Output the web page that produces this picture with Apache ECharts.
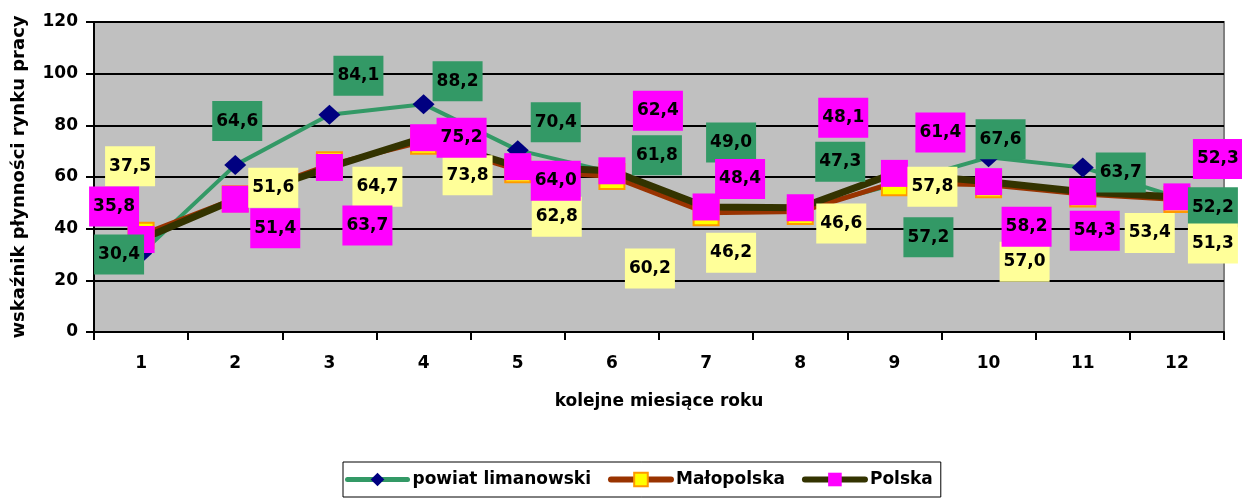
<!DOCTYPE html>
<html>
<head>
<meta charset="utf-8">
<script src="https://cdn.jsdelivr.net/npm/echarts@6/dist/echarts.min.js"></script>
<style>
html,body{margin:0;padding:0;background:#fff;}
#chart{width:1242px;height:504px;}
</style>
</head>
<body>
<div id="chart"></div>
<script>
// ---- data ----
const months = ['1','2','3','4','5','6','7','8','9','10','11','12'];
const powiat = [30.4, 64.6, 84.1, 88.2, 70.4, 61.8, 49.0, 47.3, 57.2, 67.6, 63.7, 52.2];
const malopolska = [37.5, 51.6, 64.7, 73.8, 62.8, 60.2, 46.2, 46.6, 57.8, 57.0, 53.4, 51.3];
const polska = [35.8, 51.4, 63.7, 75.2, 64.0, 62.4, 48.4, 48.1, 61.4, 58.2, 54.3, 52.3];
const yMin = 0, yMax = 120, yStep = 20;
const seriesNames = ['powiat limanowski', 'Małopolska', 'Polska'];

// ---- label placement (pixel offsets of the value boxes from their points) ----
const powiatOff = [[-22,1],[2,-44],[29,-39],[34,-23],[38,-28],[45,-17],[25,-63],[40,-48],[34,53],[12,-18],[38,5],[36,10]];
const maloOff = [[-11,-69],[38,-11],[48,22],[44,34],[39,47],[38,92],[25,40],[41,12],[38,4],[36,77],[67,39],[36,44]];
const polskaOff = [[-27,-33],[40,29],[38,58],[38,0],[38,14],[46,-60],[34,-28],[43,-90],[46,-41],[38,45],[12,39],[41,-38]];

const FONT = 'DejaVu Sans';
function fmt(v){ return v.toFixed(1).replace('.', ','); }
function build(vals, offs){
  return vals.map((v,i)=>({value:v, label:{offset:offs[i]}}));
}
function labelStyle(bg){
  return {
    show:true, position:'inside', formatter:p=>fmt(p.value),
    backgroundColor:bg, color:'#000', fontFamily:FONT, fontWeight:'bold', fontSize:17,
    width:50, height:40, lineHeight:40, align:'center', verticalAlign:'middle', padding:0
  };
}

const chart = echarts.init(document.getElementById('chart'), null, {renderer:'canvas'});
chart.setOption({
  animation:false,
  backgroundColor:'#fff',
  textStyle:{fontFamily:FONT},
  grid:{left:94, right:18, top:22, bottom:172, show:true, backgroundColor:'#C0C0C0', borderColor:'#808080', borderWidth:2},
  legend:{
    left:343, top:462, orient:'horizontal',
    borderColor:'#000', borderWidth:1, padding:[9,8,9,2],
    itemWidth:60, itemHeight:17, itemGap:17,
    textStyle:{fontFamily:FONT, fontWeight:'bold', fontSize:17, color:'#000'},
    lineStyle:{width:5, cap:'round'},
    selectedMode:false,
    data:[
      {name:seriesNames[0], lineStyle:{width:5, cap:'round'}},
      {name:seriesNames[1], lineStyle:{width:6, cap:'round'}},
      {name:seriesNames[2], lineStyle:{width:6, cap:'round'}}
    ]
  },
  xAxis:{
    type:'category', data:months, boundaryGap:true,
    name:'kolejne miesiące roku', nameLocation:'middle', nameGap:61,
    nameTextStyle:{fontFamily:FONT, fontWeight:'bold', fontSize:17, color:'#000'},
    axisLine:{lineStyle:{color:'#000', width:2}},
    axisTick:{show:true, interval:0, length:8, lineStyle:{color:'#000', width:2}},
    axisLabel:{margin:23, fontFamily:FONT, fontWeight:'bold', fontSize:17, color:'#000', interval:0},
    splitLine:{show:false}
  },
  yAxis:{
    type:'value', min:yMin, max:yMax, interval:yStep,
    name:'wskaźnik płynności rynku pracy', nameLocation:'middle', nameGap:66, nameRotate:90,
    nameTextStyle:{fontFamily:FONT, fontWeight:'bold', fontSize:18, color:'#000'},
    axisLine:{show:true, lineStyle:{color:'#000', width:2}},
    axisTick:{show:true, length:8, lineStyle:{color:'#000', width:2}},
    axisLabel:{margin:16, fontFamily:FONT, fontWeight:'bold', fontSize:17, color:'#000'},
    splitLine:{show:true, lineStyle:{color:'#000', width:2}}
  },
  series:[
    {
      name:seriesNames[0], type:'line', data:build(powiat, powiatOff),
      symbol:'diamond', symbolSize:[22,20], showAllSymbol:true,
      lineStyle:{color:'#339966', width:4},
      itemStyle:{color:'#000080', borderWidth:0},
      label:labelStyle('#339966'),
      emphasis:{disabled:true}, z:3
    },
    {
      name:seriesNames[1], type:'line', data:build(malopolska, maloOff),
      symbol:'rect', symbolSize:25, showAllSymbol:true,
      lineStyle:{color:'#993300', width:5},
      itemStyle:{color:'#FFFF00', borderColor:'#FF9900', borderWidth:2},
      label:labelStyle('#FFFF99'),
      emphasis:{disabled:true}, z:3
    },
    {
      name:seriesNames[2], type:'line', data:build(polska, polskaOff),
      symbol:'rect', symbolSize:27, showAllSymbol:true,
      lineStyle:{color:'#333300', width:7},
      itemStyle:{color:'#FF00FF', borderWidth:0},
      label:labelStyle('#FF00FF'),
      emphasis:{disabled:true}, z:3
    }
  ]
});
</script>
</body>
</html>
